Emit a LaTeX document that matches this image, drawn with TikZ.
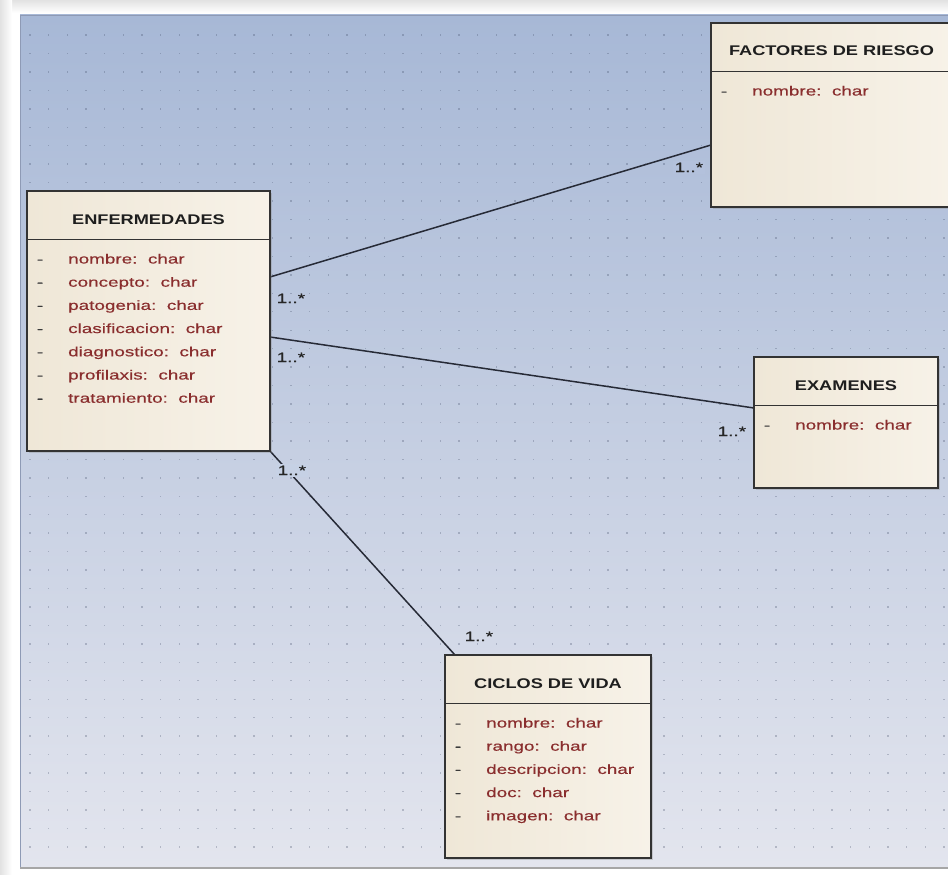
\documentclass[tikz,border=0pt]{standalone}
\usepackage{fontspec}
\setmainfont{Liberation Sans}
\newfontfamily\titlefont{Liberation Sans}[FakeStretch=1.3]
\newfontfamily\attrfont{Liberation Sans}[FakeStretch=1.42, FakeBold=0.4]
\newfontfamily\multfont{Liberation Sans}[FakeStretch=1.4, FakeBold=0.7]
\usetikzlibrary{shadows}

\definecolor{cvTop}{HTML}{A7B8D6}
\definecolor{cvMid}{HTML}{C6D1E5}
\definecolor{cvBot}{HTML}{E3E5EE}
\definecolor{cvEdge}{HTML}{8E9AB5}
\definecolor{frame}{HTML}{E2E2E2}
\definecolor{gridDot}{HTML}{3A4560}
\definecolor{boxL}{HTML}{EFE7D7}
\definecolor{boxR}{HTML}{F7F2E8}
\definecolor{boxline}{HTML}{333333}
\definecolor{titletext}{HTML}{1E1E1E}
\definecolor{attrtext}{HTML}{8A2E2E}
\definecolor{dashtext}{HTML}{3A3A3A}
\definecolor{linecol}{HTML}{262A36}

\pgfdeclarelayer{canvas}
\pgfdeclarelayer{links}
\pgfsetlayers{canvas,links,main}

% class box: outer frame, title compartment divider and title
\newcommand\umlclass[5]{% #1 name, #2 top-left corner, #3 width, #4 height, #5 title
  \node[classbox, minimum width=#3pt, minimum height=#4pt, anchor=north west] (#1) at (#2) {};
  \draw[divider] ([yshift=-48.5pt]#1.north west) -- ([yshift=-48.5pt]#1.north east);
  \node[ctitle] (#1-title) at ([yshift=-33pt]#1.north) {#5};
}
% attribute list of a class box, one "- name:  char" row each
\newcommand\umlattrs[2]{%
  \foreach \a [count=\i] in {#2} {
    \node[cdash] (#1-d\i) at ([xshift=13pt, yshift={-72.5pt-23.2pt*(\i-1)}]#1.north west) {-};
    \node[cattr] (#1-a\i) at ([xshift=41pt, yshift={-72.5pt-23.2pt*(\i-1)}]#1.north west) {\a:~~char};
  }
}

\begin{document}
\begin{tikzpicture}[x=1pt, y=-1pt,
  classbox/.style={draw=boxline, line width=1.4pt, inner sep=0pt, outer sep=0pt,
    left color=boxL, right color=boxR,
    drop shadow={opacity=0.3, shadow xshift=2pt, shadow yshift=-2pt}},
  divider/.style={draw=boxline, line width=1.4pt},
  ctitle/.style={anchor=base, inner sep=0pt, text=titletext,
    font=\titlefont\bfseries\fontsize{14}{16}\selectfont},
  cattr/.style={anchor=base west, inner sep=0pt, text=attrtext,
    font=\attrfont\fontsize{13.3}{15}\selectfont},
  cdash/.style={anchor=base, inner sep=0pt, text=dashtext,
    font=\attrfont\fontsize{13}{15}\selectfont},
  assoc/.style={draw=linecol, line width=1.5pt},
  mult/.style={anchor=base west, inner sep=1.5pt, text=black!85,
    font=\multfont\fontsize{13.5}{15}\selectfont}]

\path[use as bounding box] (0,0) rectangle (948,875);
\clip (0,0) rectangle (948,875);

\begin{pgfonlayer}{canvas}
  % page and soft frame shadow
  \fill[white] (0,0) rectangle (948,875);
  \shade[top color=frame, bottom color=white] (0,0) rectangle (948,13);
  \shade[left color=frame, right color=white] (0,0) rectangle (12,875);
  % diagram canvas with its dot grid
  \shade[top color=cvTop, middle color=cvMid, bottom color=cvBot] (20,15) rectangle (960,868);
  \draw[cvEdge, line width=0.8pt] (20.5,868) -- (20.5,15.5) -- (960,15.5);
  \draw[black!35, line width=2pt] (20,868) -- (960,868);
  \foreach \gx in {30,48.65,...,945} {
    \foreach \gy in {35,53.45,...,862} {
      \fill[gridDot, opacity=0.28] (\gx-0.7,\gy-0.7) rectangle (\gx+0.7,\gy+0.7);
    }
  }
\end{pgfonlayer}

% classes
\umlclass{enf}{27,191}{243}{260}{ENFERMEDADES}
\umlattrs{enf}{nombre,concepto,patogenia,clasificacion,diagnostico,profilaxis,tratamiento}

\umlclass{fact}{711,23}{241}{184}{FACTORES DE RIESGO}
\umlattrs{fact}{nombre}

\umlclass{exam}{754,357}{184}{131}{EXAMENES}
\umlattrs{exam}{nombre}

\umlclass{cicl}{445,655}{206}{203}{CICLOS DE VIDA}
\umlattrs{cicl}{nombre,rango,descripcion,doc,imagen}

% associations, drawn beneath the class boxes
\begin{pgfonlayer}{links}
  \draw[assoc] ([yshift=-86pt]enf.north east) -- ([yshift=-122pt]fact.north west);
  \draw[assoc] ([yshift=-146pt]enf.north east) -- ([yshift=-51pt]exam.north west);
  \draw[assoc] (enf.south east) -- ([xshift=10pt]cicl.north west);

  % multiplicities
  \node[mult] (m1) at (275,303) {1..*};
  \node[mult] (m2) at (275,362) {1..*};
  \node[mult, fill=cvMid] (m3) at (276,475) {1..*};
  \node[mult, fill=cvTop!62!cvMid] (m4) at (673,172) {1..*};
  \node[mult] (m5) at (716,436) {1..*};
  \node[mult] (m6) at (463,641) {1..*};
\end{pgfonlayer}
\end{tikzpicture}
\end{document}
